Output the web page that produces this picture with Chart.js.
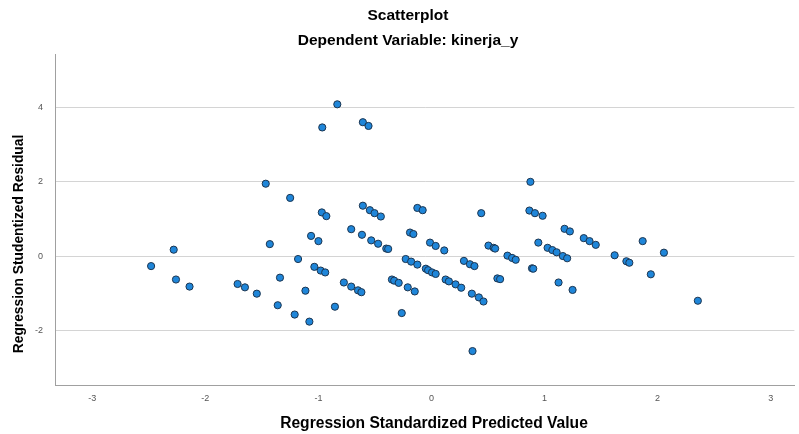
<!DOCTYPE html>
<html>
<head>
<meta charset="utf-8">
<script src="https://cdn.jsdelivr.net/npm/chart.js@4.4.1/dist/chart.umd.min.js"></script>
<style>
  html, body { margin: 0; padding: 0; background: #ffffff; }
  #wrap { width: 799px; height: 434px; position: relative; }
</style>
</head>
<body>
<div id="wrap"><canvas id="scatterChart"></canvas></div>
<script>
// Titulos
const chartTitle = 'Scatterplot';
const chartSubtitle = 'Dependent Variable: kinerja_y';
const xTitle = 'Regression Standardized Predicted Value';
const yTitle = 'Regression Studentized Residual';

// Ticks
const xTicks = [-3, -2, -1, 0, 1, 2, 3];
const yTicks = [-2, 0, 2, 4];

// Valores predichos (x) y residuales (y)
const predicted = [
  -2.48, -2.28, -2.26, -2.14, -1.715, -1.65, -1.545, -1.466, -1.43, -1.34,
  -1.36, -1.25, -1.21, -1.18, -1.115, -1.08, -1.065, -1.036, -1.00, -0.98,
  -0.97, -0.966, -0.94, -0.93, -0.854, -0.833, -0.775, -0.71, -0.71, -0.65,
  -0.62, -0.615, -0.607, -0.607, -0.557, -0.545, -0.533, -0.504, -0.472, -0.448,
  -0.40, -0.383, -0.35, -0.33, -0.29, -0.263, -0.228, -0.21, -0.19, -0.18,
  -0.16, -0.148, -0.125, -0.125, -0.078, -0.05, -0.03, -0.013, 0.005, 0.037,
  0.037, 0.113, 0.125, 0.154, 0.213, 0.263, 0.287, 0.34, 0.357, 0.363,
  0.38, 0.419, 0.44, 0.46, 0.504, 0.55, 0.563, 0.583, 0.607, 0.672,
  0.713, 0.745, 0.866, 0.875, 0.889, 0.90, 0.915, 0.945, 0.983, 1.027,
  1.069, 1.107, 1.124, 1.162, 1.177, 1.20, 1.224, 1.248, 1.347, 1.398,
  1.453, 1.62, 1.724, 1.75, 1.868, 1.94, 2.056, 2.356
];
const residual = [
  -0.26, 0.18, -0.62, -0.81, -0.74, -0.83, -1.00, 1.95, 0.33, -0.57,
  -1.31, 1.57, -1.56, -0.07, -0.92, -1.75, 0.55, -0.28, 0.41, -0.38,
  1.18, 3.46, -0.43, 1.08, -1.35, 4.08, -0.70, 0.73, -0.81, -0.91,
  -0.96, 0.58, 3.60, 1.36, 3.50, 1.24, 0.43, 1.16, 0.34, 1.07,
  0.21, 0.20, -0.62, -0.65, -0.71, -1.52, -0.07, -0.83, 0.64, -0.14,
  0.60, -0.94, 1.30, -0.22, 1.24, -0.33, -0.37, 0.37, -0.43, 0.28,
  -0.47, 0.16, -0.62, -0.67, -0.75, -0.84, -0.12, -0.21, -1.00, -2.54,
  -0.26, -1.10, 1.16, -1.21, 0.29, 0.23, 0.21, -0.59, -0.61, 0.02,
  -0.04, -0.09, 1.23, 2.00, -0.32, -0.33, 1.16, 0.37, 1.09, 0.23,
  0.17, 0.11, -0.70, 0.01, 0.74, -0.05, 0.67, -0.90, 0.49, 0.41,
  0.31, 0.03, -0.13, -0.17, 0.41, -0.48, 0.10, -1.19
];

const points = predicted.map((x, i) => ({ x: x, y: residual[i] }));

const fontFam = '"Liberation Sans", Arial, sans-serif';

// Plugin para dibujar los titulos (arriba y de los ejes)
const chartTitles = {
  id: 'chartTitles',
  afterDraw(chart) {
    const c = chart.ctx;
    c.save();
    c.fillStyle = '#000000';
    c.textAlign = 'center';
    c.textBaseline = 'middle';
    c.font = 'bold 15.5px ' + fontFam;
    c.fillText(chartTitle, 408, 16);
    c.fillText(chartSubtitle, 408, 41);
    c.font = 'bold 15.6px ' + fontFam;
    c.fillText(xTitle, 434, 424);
    c.translate(19, 244);
    c.rotate(-Math.PI / 2);
    c.font = 'bold 13.8px ' + fontFam;
    c.fillText(yTitle, 0, 0);
    c.restore();
  }
};

const ctx = document.getElementById('scatterChart').getContext('2d');
const scatterChart = new Chart(ctx, {
  type: 'scatter',
  data: {
    datasets: [{
      label: 'Residual',
      data: points,
      backgroundColor: '#1f86d9',
      borderColor: '#1c3550',
      borderWidth: 1,
      pointRadius: 3.6,
      pointHoverRadius: 3.6
    }]
  },
  options: {
    responsive: true,
    maintainAspectRatio: false,
    animation: false,
    layout: { padding: { left: 0, top: 54, right: 2, bottom: 0 } },
    plugins: {
      legend: { display: false },
      tooltip: { enabled: false }
    },
    scales: {
      x: {
        type: 'linear',
        min: -3.33,
        max: 3.21,
        afterBuildTicks: scale => { scale.ticks = xTicks.map(v => ({ value: v })); },
        afterFit: scale => { scale.height = 49; },
        grid: { display: false, drawTicks: false },
        border: { display: true, color: '#a0a0a0', width: 1 },
        ticks: {
          padding: 8,
          color: '#555555',
          font: { family: fontFam, size: 9 }
        },
        title: { display: false }
      },
      y: {
        type: 'linear',
        min: -3.45,
        max: 5.43,
        afterBuildTicks: scale => { scale.ticks = yTicks.map(v => ({ value: v })); },
        afterFit: scale => { scale.width = 55; },
        grid: { color: '#d4d4d4', lineWidth: 1, drawTicks: false },
        border: { display: true, color: '#a0a0a0', width: 1 },
        ticks: {
          padding: 12,
          color: '#555555',
          font: { family: fontFam, size: 9 }
        },
        title: { display: false }
      }
    }
  },
  plugins: [chartTitles]
});
</script>
</body>
</html>
